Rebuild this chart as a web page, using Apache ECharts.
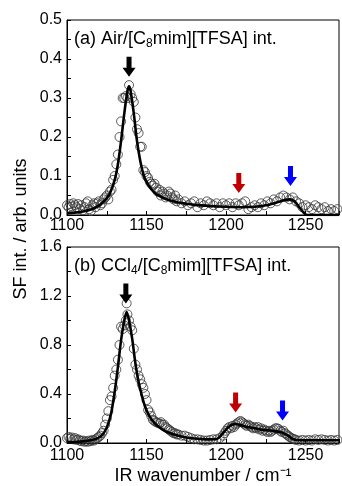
<!DOCTYPE html>
<html>
<head>
<meta charset="utf-8">
<script src="https://cdn.jsdelivr.net/npm/echarts@6/dist/echarts.min.js"></script>
<style>
html, body { margin: 0; padding: 0; background: #fff; }
#chart { width: 342px; height: 486px; }
</style>
</head>
<body>
<div id="chart"></div>
<script>
// (a) Air/[C8mim][TFSA] - measured points
var airX = [1100,1101,1102,1103,1104,1105,1106,1107,1108,1109,1110,1111,1112,1113,1114,1115,1116,1117,1118,1119,
    1120,1121,1122,1123,1124,1125,1126,1127,1128,1129,1130,1131,1132,1133,1134,1135,1136,1137,1138,1139,
    1140,1141,1142,1143,1144,1145,1146,1147,1148,1149,1150,1151,1152,1153,1154,1155,1156,1157,1158,1159,
    1160,1161,1162,1163,1164,1165,1166,1167,1168,1169,1170,1172,1174,1176,1178,1180,1182,1184,1186,1188,
    1190,1192,1194,1196,1198,1200,1202,1204,1206,1208,1210,1212,1214,1216,1218,1220,1222,1224,1226,1228,
    1230,1232,1234,1236,1238,1240,1242,1244,1246,1248,1250,1252,1254,1256,1258,1260,1262,1264,1266,1268,1270];
var airY = [0.025,0.02,0.028,0.022,0.03,0.025,0.02,0.028,0.015,0.025,0.012,0.02,0.03,0.035,0.015,0.01,0.025,0.03,0.02,0.03,
    0.035,0.025,0.03,0.04,0.045,0.05,0.04,0.06,0.065,0.09,0.1,0.13,0.155,0.2,0.24,0.3,0.3,0.305,0.3,0.333,
    0.31,0.3,0.29,0.25,0.22,0.21,0.175,0.175,0.115,0.11,0.1,0.095,0.085,0.08,0.075,0.08,0.07,0.06,0.065,0.05,
    0.06,0.055,0.045,0.05,0.06,0.055,0.045,0.04,0.05,0.035,0.04,0.03,0.035,0.025,0.03,0.035,0.02,0.03,0.025,0.035,
    0.03,0.025,0.03,0.02,0.03,0.025,0.03,0.02,0.03,0.025,0.03,0.035,0.015,0.02,0.025,0.02,0.03,0.025,0.035,0.03,
    0.04,0.035,0.045,0.05,0.045,0.04,0.045,0.035,0.03,0.02,0.025,0.02,0.015,0.025,0.02,0.015,0.02,0.01,0.015,0.01,0.015];
// (a) fit curve
var airFitX = [1100,1105,1110,1115,1120,1124,1127,1130,1132,1134,1136,1138,1139,1140,1142,1144,1146,1148,1150,1153,
    1156,1160,1165,1170,1175,1180,1190,1200,1210,1218,1225,1230,1235,1240,1243,1246,1249,1251,1271];
var airFitY = [0.004,0.006,0.009,0.014,0.024,0.038,0.056,0.09,0.13,0.19,0.26,0.318,0.33,0.318,0.26,0.19,0.14,0.105,0.085,0.066,
    0.054,0.045,0.037,0.032,0.029,0.026,0.023,0.021,0.02,0.021,0.025,0.03,0.036,0.04,0.035,0.02,0.005,0.0,0.0];

// (b) CCl4/[C8mim][TFSA] - measured points
var cclX = [1100,1101,1102,1103,1104,1105,1106,1107,1108,1109,1110,1111,1112,1113,1114,1115,1116,1117,1118,1119,
    1120,1121,1122,1123,1124,1125,1126,1127,1128,1129,1130,1131,1132,1133,1134,1135,1136,1137,1137.5,1138,
    1139,1140,1141,1142,1143,1144,1145,1146,1147,1148,1149,1150,1151,1152,1153,1154,1155,1156,1157,1158,
    1159,1160,1161,1162,1163,1164,1165,1166,1167,1168,1169,1170,1172,1174,1176,1178,1180,1182,1184,1186,
    1188,1190,1192,1194,1196,1198,1199,1200,1201,1202,1203,1204,1205,1206,1207,1208,1209,1210,1211,1212,
    1213,1214,1215,1216,1217,1218,1219,1220,1221,1222,1223,1224,1225,1226,1227,1228,1229,1230,1231,1232,
    1233,1234,1235,1236,1237,1238,1239,1240,1241,1242,1243,1244,1246,1248,1250,1252,1254,1256,1258,1260,
    1262,1264,1266,1268,1270];
var cclY = [0.04,0.05,0.035,0.045,0.03,0.04,0.025,0.03,0.02,0.015,0.02,0.01,0.015,0.01,0.02,0.015,0.025,0.02,0.03,0.04,
    0.05,0.06,0.08,0.1,0.15,0.2,0.26,0.35,0.38,0.45,0.55,0.6,0.68,0.8,0.95,0.93,0.96,1.0,1.14,1.05,
    1.0,0.95,0.92,0.77,0.64,0.6,0.55,0.52,0.48,0.45,0.4,0.35,0.27,0.25,0.22,0.19,0.18,0.17,0.165,0.16,
    0.17,0.15,0.15,0.13,0.12,0.11,0.1,0.09,0.08,0.08,0.07,0.07,0.06,0.06,0.05,0.04,0.03,0.03,0.025,0.02,
    0.02,0.025,0.03,0.03,0.04,0.06,0.08,0.1,0.12,0.13,0.12,0.14,0.13,0.15,0.16,0.17,0.18,0.17,0.16,0.15,
    0.14,0.15,0.14,0.13,0.12,0.13,0.12,0.13,0.11,0.12,0.1,0.11,0.1,0.09,0.1,0.09,0.1,0.11,0.12,0.12,
    0.115,0.1,0.09,0.1,0.08,0.07,0.06,0.05,0.04,0.035,0.03,0.025,0.02,0.025,0.02,0.025,0.02,0.03,0.025,0.03,
    0.025,0.02,0.025,0.02,0.025];
// (b) fit curve
var cclFitX = [1100,1105,1110,1115,1118,1120,1122,1124,1126,1128,1130,1132,1134,1136,1137.5,1139,1141,1143,1145,1147,
    1149,1151,1153,1156,1160,1165,1170,1175,1180,1185,1190,1194,1196,1198,1200,1202,1204,1206,1208,1212,
    1216,1220,1225,1230,1234,1237,1240,1242,1244,1250,1260,1271];
var cclFitY = [0.005,0.008,0.013,0.022,0.032,0.045,0.065,0.1,0.16,0.26,0.42,0.62,0.84,1.0,1.07,1.0,0.85,0.65,0.5,0.39,
    0.3,0.24,0.195,0.15,0.11,0.08,0.06,0.045,0.037,0.032,0.03,0.032,0.05,0.08,0.11,0.135,0.15,0.155,0.15,0.135,
    0.125,0.115,0.105,0.098,0.09,0.075,0.05,0.033,0.025,0.022,0.022,0.022];

// band markers (arrows): x and y in data units
var airArrowX = [1139, 1208, 1240.5];
var airArrowY = [0.38, 0.082, 0.1];
var cclArrowX = [1137, 1206, 1235.5];
var cclArrowY = [1.22, 0.33, 0.265];
var arrowColors = ['#000000', '#c00000', '#0000ff'];

var FONT = '"Liberation Sans", Arial, sans-serif';

function pairs(xs, ys) {
    var out = [];
    for (var i = 0; i < xs.length; i++) {
        out.push([xs[i], ys[i]]);
    }
    return out;
}

function arrowData(xs, ys) {
    var out = [];
    for (var i = 0; i < xs.length; i++) {
        out.push({ value: [xs[i], ys[i]], itemStyle: { color: arrowColors[i], opacity: 1 } });
    }
    return out;
}

var arrowPath = 'path://M4,0 L9,0 L9,11 L13,11 L6.5,20 L0,11 L4,11 Z';

function xAxisFor(gridIndex, margin, withName) {
    var ax = {
        type: 'value',
        gridIndex: gridIndex,
        min: 1100,
        max: 1271,
        interval: 25,
        axisLine: { show: true, onZero: false, lineStyle: { color: '#000', width: 1 } },
        axisTick: { show: true, inside: true, length: 4, lineStyle: { color: '#000' } },
        splitLine: { show: false },
        axisLabel: {
            color: '#000', fontSize: 16, fontFamily: FONT, margin: margin,
            formatter: function (v) {
                var r = Math.round(v);
                if (Math.abs(v - r) < 1e-6 && r % 50 === 0) return String(r);
                return '';
            }
        }
    };
    if (withName) {
        ax.name = 'IR wavenumber / cm\u207B\u00B9';
        ax.nameLocation = 'middle';
        ax.nameGap = 24;
        ax.nameTextStyle = { color: '#000', fontSize: 18, fontFamily: FONT };
    }
    return ax;
}

function yAxisFor(gridIndex, max, interval, fmt) {
    return {
        type: 'value',
        gridIndex: gridIndex,
        min: 0,
        max: max,
        interval: interval,
        axisLine: { show: true, lineStyle: { color: '#000', width: 1 } },
        axisTick: { show: true, inside: true, length: 4, lineStyle: { color: '#000' } },
        splitLine: { show: false },
        axisLabel: { color: '#000', fontSize: 16, fontFamily: FONT, margin: 5, formatter: fmt }
    };
}

function scatterSeries(idx, data) {
    return {
        type: 'scatter',
        xAxisIndex: idx, yAxisIndex: idx,
        data: data,
        symbol: 'circle',
        symbolSize: 9,
        itemStyle: { color: 'rgba(0,0,0,0)', borderColor: '#333', borderWidth: 0.8, opacity: 1 },
        z: 2,
        silent: true
    };
}

function fitSeries(idx, data) {
    return {
        type: 'line',
        xAxisIndex: idx, yAxisIndex: idx,
        data: data,
        showSymbol: false,
        smooth: 0.3,
        lineStyle: { color: '#000', width: 2.6 },
        z: 3,
        silent: true
    };
}

function arrowSeries(idx, data) {
    return {
        type: 'scatter',
        xAxisIndex: idx, yAxisIndex: idx,
        data: data,
        symbol: arrowPath,
        symbolSize: [13, 20],
        itemStyle: { opacity: 1 },
        z: 4,
        silent: true
    };
}

var myChart = echarts.init(document.getElementById('chart'), null, { renderer: 'canvas' });

var titleRich = {
    t: { fontSize: 18, fontFamily: FONT, fontWeight: 'normal', color: '#000', lineHeight: 22 },
    s: { fontSize: 12, fontFamily: FONT, fontWeight: 'normal', color: '#000', lineHeight: 12, verticalAlign: 'bottom' }
};

var option = {
    animation: false,
    backgroundColor: '#fff',
    title: [{
        text: '{t|(a) Air/[C}{s|8}{t|mim][TFSA] int.}',
        left: 74, top: 28, padding: 0,
        textStyle: { fontWeight: 'normal', rich: titleRich }
    }, {
        text: '{t|(b) CCl}{s|4}{t|/[C}{s|8}{t|mim][TFSA] int.}',
        left: 74, top: 255, padding: 0,
        textStyle: { fontWeight: 'normal', rich: titleRich }
    }],
    grid: [
        { left: 67, top: 20, right: 1, height: 195, show: true, borderColor: '#000', borderWidth: 1, backgroundColor: 'transparent' },
        { left: 67, top: 247, right: 1, height: 196, show: true, borderColor: '#000', borderWidth: 1, backgroundColor: 'transparent' }
    ],
    xAxis: [xAxisFor(0, 3, false), xAxisFor(1, 5, true)],
    yAxis: [
        yAxisFor(0, 0.5, 0.05, function (v) {
            var r = Math.round(v * 100);
            return r % 10 === 0 ? (r / 100).toFixed(1) : '';
        }),
        yAxisFor(1, 1.6, 0.2, function (v) {
            var r = Math.round(v * 10);
            return r % 4 === 0 ? (r / 10).toFixed(1) : '';
        })
    ],
    graphic: [{
        type: 'text',
        x: 21, y: 229,
        rotation: Math.PI / 2,
        style: {
            text: 'SF int. / arb. units',
            fill: '#000',
            font: '18px "Liberation Sans", Arial, sans-serif',
            textAlign: 'center',
            textVerticalAlign: 'middle'
        }
    }],
    series: [
        scatterSeries(0, pairs(airX, airY)),
        fitSeries(0, pairs(airFitX, airFitY)),
        arrowSeries(0, arrowData(airArrowX, airArrowY)),
        scatterSeries(1, pairs(cclX, cclY)),
        fitSeries(1, pairs(cclFitX, cclFitY)),
        arrowSeries(1, arrowData(cclArrowX, cclArrowY))
    ]
};

myChart.setOption(option);
</script>
</body>
</html>
